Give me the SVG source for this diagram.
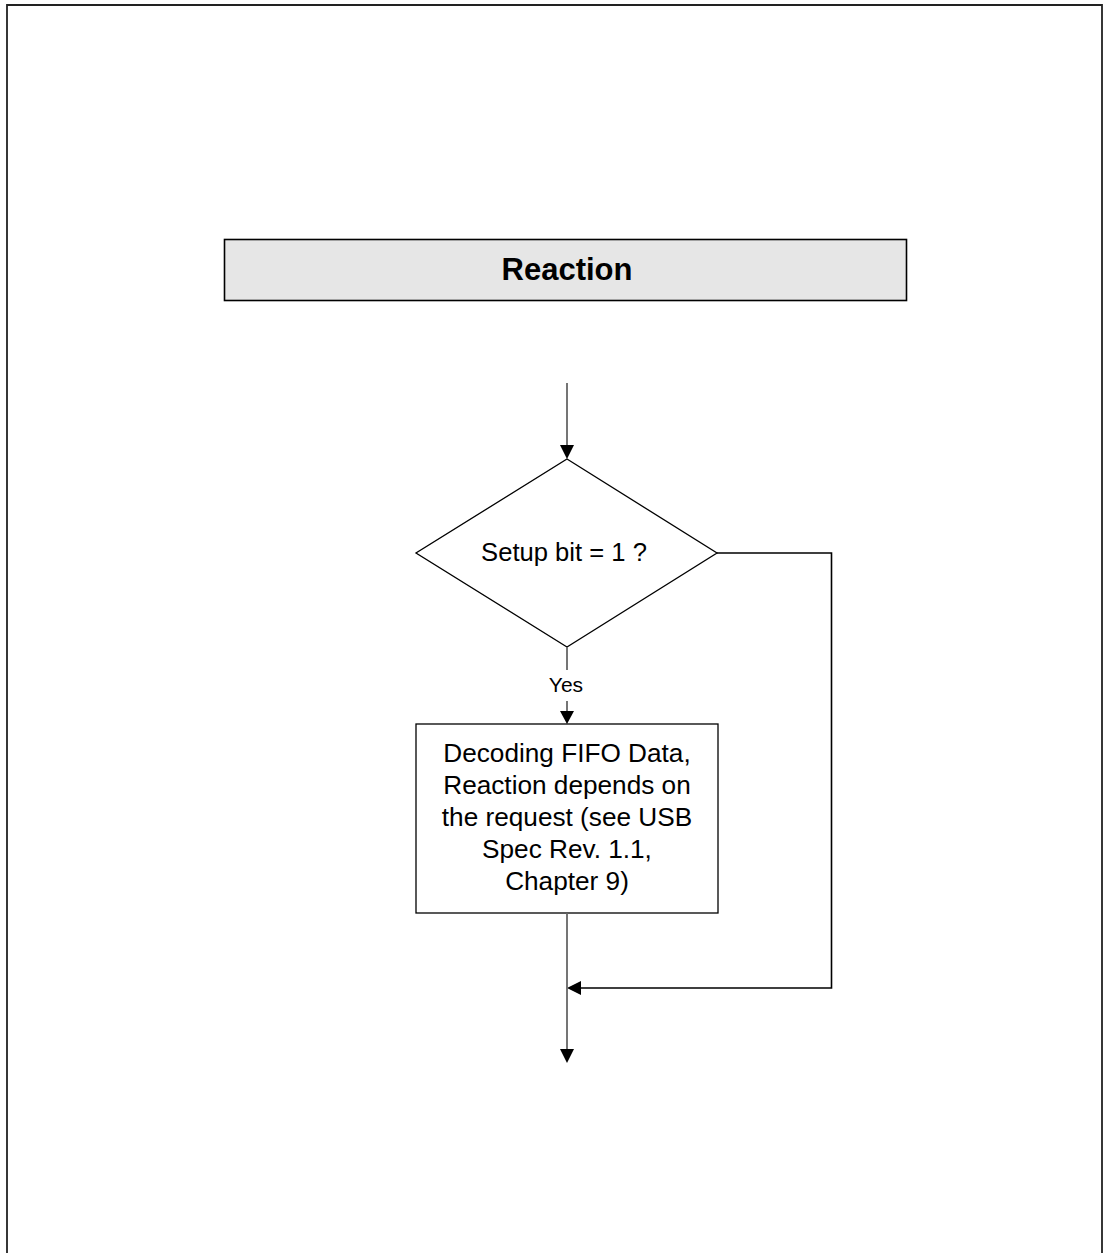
<svg xmlns="http://www.w3.org/2000/svg" width="1103" height="1253" viewBox="0 0 1103 1253">
<style>
.t{font-family:"Liberation Sans",Arial,sans-serif;fill:#000;text-anchor:middle}
.node{fill:#fff;stroke:#000;stroke-width:1.3}
.g{fill:none;stroke:#666;stroke-width:1.8}
.k{fill:none;stroke:#000;stroke-width:1.6}
.ah{fill:#000;stroke:none}
</style>
<rect width="1103" height="1253" fill="#fff"/>
<path d="M7,1253 V5 H1102 V1253" fill="none" stroke="#222" stroke-width="1.8"/>
<g id="header">
<rect x="224.5" y="239.5" width="682" height="61" fill="#e6e6e6" stroke="#000" stroke-width="1.6"/>
<text class="t" x="567" y="280" font-size="31" font-weight="bold">Reaction</text>
</g>
<g id="decision">
<polygon class="node" points="567,459 717,553 567,647 416,553"/>
<text class="t" x="564" y="561" font-size="25.6">Setup bit = 1 ?</text>
</g>
<g id="process">
<rect class="node" x="416" y="724" width="302" height="189"/>
<text class="t" font-size="26.2"><tspan x="567" y="762">Decoding FIFO Data,</tspan><tspan x="567" y="794">Reaction depends on</tspan><tspan x="567" y="826">the request (see USB</tspan><tspan x="567" y="858">Spec Rev. 1.1,</tspan><tspan x="567" y="890">Chapter 9)</tspan></text>
</g>
<g id="connectors">
<line class="g" x1="567" y1="383" x2="567" y2="446"/>
<polygon class="ah" points="560,445 574,445 567,459"/>
<line class="g" x1="567" y1="647" x2="567" y2="670"/>
<text class="t" x="566" y="692" font-size="21">Yes</text>
<line class="g" x1="567" y1="701" x2="567" y2="712"/>
<polygon class="ah" points="560,711 574,711 567,724"/>
<polyline class="k" points="717,553 831.5,553 831.5,988 580,988"/>
<polygon class="ah" points="567,988 581,981 581,995"/>
<line class="g" x1="567" y1="913" x2="567" y2="1050"/>
<polygon class="ah" points="560,1049 574,1049 567,1063"/>
</g>
</svg>
